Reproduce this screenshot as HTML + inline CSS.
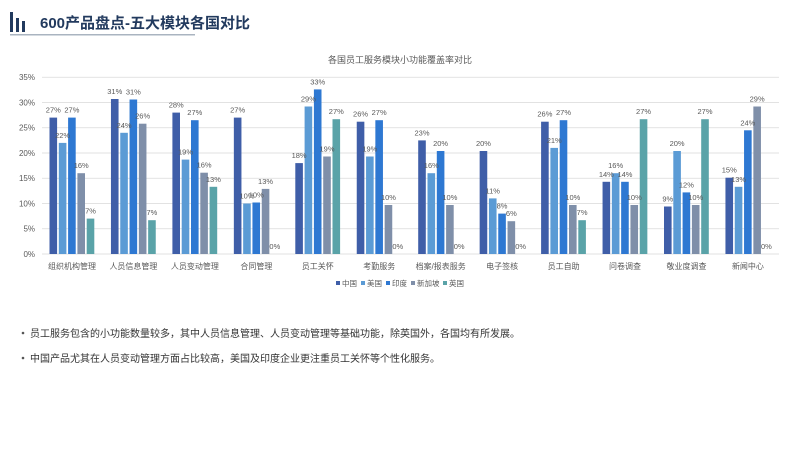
<!DOCTYPE html>
<html><head><meta charset="utf-8"><style>
body{margin:0;width:800px;height:449px;background:#fff;overflow:hidden;font-family:"Liberation Sans","Noto Sans CJK SC",sans-serif;}
svg{position:absolute;left:0;top:0}
</style></head><body>
<svg width="800" height="449" viewBox="0 0 800 449" font-family="Liberation Sans, Noto Sans CJK SC, sans-serif">
<rect x="10" y="12" width="3" height="20" fill="#223a5e"/>
<rect x="16" y="18" width="3" height="14" fill="#223a5e"/>
<rect x="22" y="21" width="3" height="11" fill="#223a5e"/>
<text x="40" y="28" font-size="15" font-weight="bold" fill="#223a5e">600产品盘点-五大模块各国对比</text>
<rect x="10" y="34" width="185" height="1.5" fill="#aab4c0"/>
<text x="400" y="63" font-size="9" fill="#595959" text-anchor="middle">各国员工服务模块小功能覆盖率对比</text>
<g stroke="#d9d9d9" stroke-width="0.8">
<line x1="42" x2="779" y1="254" y2="254"/><line x1="42" x2="779" y1="228.75" y2="228.75"/><line x1="42" x2="779" y1="203.5" y2="203.5"/><line x1="42" x2="779" y1="178.25" y2="178.25"/><line x1="42" x2="779" y1="153" y2="153"/><line x1="42" x2="779" y1="127.75" y2="127.75"/><line x1="42" x2="779" y1="102.5" y2="102.5"/><line x1="42" x2="779" y1="77.25" y2="77.25"/>
</g>
<g font-size="8" fill="#595959" text-anchor="end">
<text x="35" y="257">0%</text><text x="35" y="231.5">5%</text><text x="35" y="206.5">10%</text><text x="35" y="181">15%</text><text x="35" y="156">20%</text><text x="35" y="130.5">25%</text><text x="35" y="105.5">30%</text><text x="35" y="80">35%</text>
</g>
<g>
<!-- G1 -->
<rect x="49.5" y="117.6" width="7.6" height="136.4" fill="#3f5ea8"/><rect x="58.8" y="142.9" width="7.6" height="111.1" fill="#5b9bd5"/><rect x="68.1" y="117.6" width="7.6" height="136.4" fill="#2e78d2"/><rect x="77.4" y="173.2" width="7.6" height="80.8" fill="#7f8fa9"/><rect x="86.7" y="218.6" width="7.6" height="35.4" fill="#5aa3a8"/>
<!-- G2 -->
<rect x="110.95" y="99" width="7.6" height="155" fill="#3f5ea8"/><rect x="120.25" y="132.8" width="7.6" height="121.2" fill="#5b9bd5"/><rect x="129.55" y="99.5" width="7.6" height="154.5" fill="#2e78d2"/><rect x="138.85" y="123.7" width="7.6" height="130.3" fill="#7f8fa9"/><rect x="148.15" y="220.2" width="7.6" height="33.8" fill="#5aa3a8"/>
<!-- G3 -->
<rect x="172.4" y="112.6" width="7.6" height="141.4" fill="#3f5ea8"/><rect x="181.7" y="159.6" width="7.6" height="94.4" fill="#5b9bd5"/><rect x="191" y="120.2" width="7.6" height="133.8" fill="#2e78d2"/><rect x="200.3" y="172.7" width="7.6" height="81.3" fill="#7f8fa9"/><rect x="209.6" y="186.8" width="7.6" height="67.2" fill="#5aa3a8"/>
<!-- G4 -->
<rect x="233.85" y="117.6" width="7.6" height="136.4" fill="#3f5ea8"/><rect x="243.15" y="203.5" width="7.6" height="50.5" fill="#5b9bd5"/><rect x="252.45" y="202.5" width="7.6" height="51.5" fill="#2e78d2"/><rect x="261.75" y="188.9" width="7.6" height="65.1" fill="#7f8fa9"/>
<!-- G5 -->
<rect x="295.3" y="163.1" width="7.6" height="90.9" fill="#3f5ea8"/><rect x="304.6" y="106.5" width="7.6" height="147.5" fill="#5b9bd5"/><rect x="313.9" y="89.4" width="7.6" height="164.6" fill="#2e78d2"/><rect x="323.2" y="156.5" width="7.6" height="97.5" fill="#7f8fa9"/><rect x="332.5" y="119.2" width="7.6" height="134.8" fill="#5aa3a8"/>
<!-- G6 -->
<rect x="356.75" y="121.7" width="7.6" height="132.3" fill="#3f5ea8"/><rect x="366.05" y="156.5" width="7.6" height="97.5" fill="#5b9bd5"/><rect x="375.35" y="120.2" width="7.6" height="133.8" fill="#2e78d2"/><rect x="384.65" y="205" width="7.6" height="49" fill="#7f8fa9"/>
<!-- G7 -->
<rect x="418.2" y="140.4" width="7.6" height="113.6" fill="#3f5ea8"/><rect x="427.5" y="173.2" width="7.6" height="80.8" fill="#5b9bd5"/><rect x="436.8" y="151" width="7.6" height="103" fill="#2e78d2"/><rect x="446.1" y="205" width="7.6" height="49" fill="#7f8fa9"/>
<!-- G8 -->
<rect x="479.65" y="151" width="7.6" height="103" fill="#3f5ea8"/><rect x="488.95" y="198.4" width="7.6" height="55.6" fill="#5b9bd5"/><rect x="498.25" y="213.6" width="7.6" height="40.4" fill="#2e78d2"/><rect x="507.55" y="221.2" width="7.6" height="32.8" fill="#7f8fa9"/>
<!-- G9 -->
<rect x="541.1" y="121.7" width="7.6" height="132.3" fill="#3f5ea8"/><rect x="550.4" y="147.9" width="7.6" height="106.1" fill="#5b9bd5"/><rect x="559.7" y="120.2" width="7.6" height="133.8" fill="#2e78d2"/><rect x="569" y="205" width="7.6" height="49" fill="#7f8fa9"/><rect x="578.3" y="220.2" width="7.6" height="33.8" fill="#5aa3a8"/>
<!-- G10 -->
<rect x="602.55" y="181.8" width="7.6" height="72.2" fill="#3f5ea8"/><rect x="611.85" y="173.2" width="7.6" height="80.8" fill="#5b9bd5"/><rect x="621.15" y="181.8" width="7.6" height="72.2" fill="#2e78d2"/><rect x="630.45" y="205" width="7.6" height="49" fill="#7f8fa9"/><rect x="639.75" y="119.2" width="7.6" height="134.8" fill="#5aa3a8"/>
<!-- G11 -->
<rect x="664" y="206.5" width="7.6" height="47.5" fill="#3f5ea8"/><rect x="673.3" y="151" width="7.6" height="103" fill="#5b9bd5"/><rect x="682.6" y="192.4" width="7.6" height="61.6" fill="#2e78d2"/><rect x="691.9" y="205" width="7.6" height="49" fill="#7f8fa9"/><rect x="701.2" y="119.2" width="7.6" height="134.8" fill="#5aa3a8"/>
<!-- G12 -->
<rect x="725.45" y="177.7" width="7.6" height="76.3" fill="#3f5ea8"/><rect x="734.75" y="186.8" width="7.6" height="67.2" fill="#5b9bd5"/><rect x="744.05" y="130.3" width="7.6" height="123.7" fill="#2e78d2"/><rect x="753.35" y="106.5" width="7.6" height="147.5" fill="#7f8fa9"/>
</g>
<g font-size="7.5" fill="#595959" text-anchor="middle">
<text x="53.3" y="112.6">27%</text><text x="62.6" y="137.9">22%</text><text x="71.9" y="112.6">27%</text><text x="81.2" y="168.2">16%</text><text x="90.5" y="213.6">7%</text>
<text x="114.75" y="94">31%</text><text x="124.05" y="127.8">24%</text><text x="133.35" y="94.5">31%</text><text x="142.65" y="118.7">26%</text><text x="151.95" y="215.2">7%</text>
<text x="176.2" y="107.6">28%</text><text x="185.5" y="154.6">19%</text><text x="194.8" y="115.2">27%</text><text x="204.1" y="167.7">16%</text><text x="213.4" y="181.8">13%</text>
<text x="237.65" y="112.6">27%</text><text x="246.95" y="198.5">10%</text><text x="256.25" y="197.5">10%</text><text x="265.55" y="183.9">13%</text><text x="274.85" y="249">0%</text>
<text x="299.1" y="158.1">18%</text><text x="308.4" y="101.5">29%</text><text x="317.7" y="84.4">33%</text><text x="327" y="151.5">19%</text><text x="336.3" y="114.2">27%</text>
<text x="360.55" y="116.7">26%</text><text x="369.85" y="151.5">19%</text><text x="379.15" y="115.2">27%</text><text x="388.45" y="200">10%</text><text x="397.75" y="249">0%</text>
<text x="422" y="135.4">23%</text><text x="431.3" y="168.2">16%</text><text x="440.6" y="146">20%</text><text x="449.9" y="200">10%</text><text x="459.2" y="249">0%</text>
<text x="483.45" y="146">20%</text><text x="492.75" y="193.4">11%</text><text x="502.05" y="208.6">8%</text><text x="511.35" y="216.2">6%</text><text x="520.65" y="249">0%</text>
<text x="544.9" y="116.7">26%</text><text x="554.2" y="142.9">21%</text><text x="563.5" y="115.2">27%</text><text x="572.8" y="200">10%</text><text x="582.1" y="215.2">7%</text>
<text x="606.35" y="176.8">14%</text><text x="615.65" y="168.2">16%</text><text x="624.95" y="176.8">14%</text><text x="634.25" y="200">10%</text><text x="643.55" y="114.2">27%</text>
<text x="667.8" y="201.5">9%</text><text x="677.1" y="146">20%</text><text x="686.4" y="187.4">12%</text><text x="695.7" y="200">10%</text><text x="705" y="114.2">27%</text>
<text x="729.25" y="172.7">15%</text><text x="738.55" y="181.8">13%</text><text x="747.85" y="125.3">24%</text><text x="757.15" y="101.5">29%</text><text x="766.45" y="249">0%</text>
</g>
<g font-size="8" fill="#595959" text-anchor="middle">
<text x="72" y="269">组织机构管理</text><text x="133.45" y="269">人员信息管理</text><text x="194.9" y="269">人员变动管理</text><text x="256.35" y="269">合同管理</text><text x="317.8" y="269">员工关怀</text><text x="379.25" y="269">考勤服务</text><text x="440.7" y="269">档案/报表服务</text><text x="502.15" y="269">电子签核</text><text x="563.6" y="269">员工自助</text><text x="625.05" y="269">问卷调查</text><text x="686.5" y="269">敬业度调查</text><text x="747.95" y="269">新闻中心</text>
</g>
<g font-size="7.5" fill="#595959">
<rect x="336" y="281" width="4" height="4" fill="#3f5ea8"/><text x="342" y="286">中国</text>
<rect x="361" y="281" width="4" height="4" fill="#5b9bd5"/><text x="367" y="286">美国</text>
<rect x="386" y="281" width="4" height="4" fill="#2e78d2"/><text x="392" y="286">印度</text>
<rect x="411" y="281" width="4" height="4" fill="#7f8fa9"/><text x="417" y="286">新加坡</text>
<rect x="443" y="281" width="4" height="4" fill="#5aa3a8"/><text x="449" y="286">英国</text>
</g>
<g font-size="10" fill="#333">
<circle cx="23" cy="333" r="1.3" fill="#555"/><text x="30" y="337">员工服务包含的小功能数量较多，其中人员信息管理、人员变动管理等基础功能，除英国外，各国均有所发展。</text>
<circle cx="23" cy="358" r="1.3" fill="#555"/><text x="30" y="362">中国产品尤其在人员变动管理方面占比较高，美国及印度企业更注重员工关怀等个性化服务。</text>
</g>
</svg>
</body></html>
